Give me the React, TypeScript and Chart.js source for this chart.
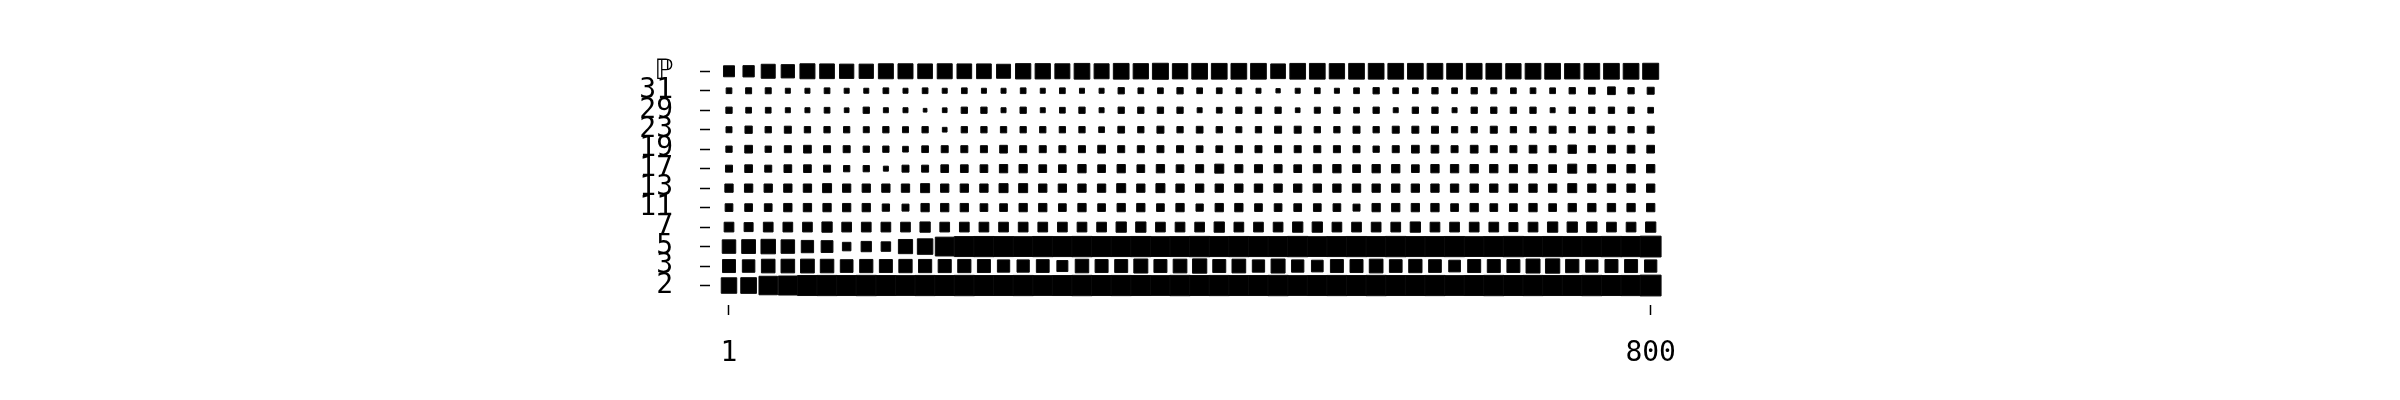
import React, { useEffect, useRef } from "react";
import { Chart, registerables } from "chart.js";

Chart.register(...registerables);

// x positions of the column bins (1 … 800)
const binStarts = [
  1, 18, 35, 52, 69, 86, 103, 120, 137, 154, 171, 188, 205, 222, 239, 256,
  273, 290, 307, 324, 341, 358, 375, 392, 409, 426, 443, 460, 477, 494, 511, 528,
  545, 562, 579, 596, 613, 630, 647, 664, 681, 698, 715, 732, 749, 766, 783, 800,
];

// row labels, bottom to top
const rowLabels = ["2", "3", "5", "7", "11", "13", "17", "19", "23", "29", "31", "ℙ"];

// magnitudes for each row (one per bin)
const row2 = [
  16.5, 16.7, 19.5, 20, 21, 21.2, 21, 21.3, 21, 20.8, 21.2, 21, 21.3, 21, 21, 21.2,
  20.8, 21, 21.3, 21, 21.2, 21, 20.8, 21.3, 21, 21.2, 21, 21, 21.3, 20.8, 21, 21.2,
  21, 21.3, 21, 21, 21.2, 20.8, 21, 21.3, 21, 21.2, 21, 21, 21.3, 21, 21.2, 21.8,
];
const row3 = [
  14, 13.5, 14.6, 14.6, 14.8, 14.5, 13.7, 14.2, 14, 14.3, 14.2, 14.1, 14.2, 14, 13.3, 13.3,
  13.8, 12, 14.5, 14, 14, 15, 14, 14.7, 15.3, 14, 14.7, 13.3, 15, 13.3, 12.7, 14,
  14, 14.7, 13.7, 14.3, 13.7, 12.7, 14, 14, 14, 15, 15.3, 14.3, 13.3, 14, 14, 13.3,
];
const row5 = [
  14.5, 14.8, 15.5, 14.5, 13.3, 12.8, 9.5, 11.3, 10.5, 15.2, 16.5, 19.8, 21, 21.2, 21, 20.8,
  21.2, 21, 21.3, 21, 21, 21.2, 20.8, 21, 21.3, 21, 21.2, 21, 21, 21.3, 20.8, 21,
  21.2, 21, 21.3, 21, 21, 21.2, 20.8, 21, 21.3, 21, 21.2, 21, 21, 21.3, 21.2, 21.8,
];
const row7 = [
  10.7, 10, 10.7, 10.7, 10.7, 11.3, 10.7, 10.7, 10.7, 10.7, 11.3, 10.7, 10.7, 10.7, 10.7, 10.7,
  10.7, 10.7, 10.7, 10.7, 11.3, 11.3, 10.7, 10.7, 10.7, 11.3, 10.7, 10.7, 10.7, 11.3, 11.3, 10.7,
  10.7, 10.7, 10.7, 11.3, 10.7, 10.7, 10.7, 10.7, 10, 10.7, 11.3, 11.3, 11.3, 10.7, 10.7, 11.3,
];
const row11 = [
  8.7, 8.7, 8.7, 9.3, 9.3, 9.3, 9.3, 9.3, 8.3, 8, 9.3, 9.3, 9.3, 8.7, 8.7, 9.3,
  9.3, 8.7, 9.3, 8.7, 9.3, 9.3, 8.7, 9.3, 8.3, 9.3, 9.3, 8.7, 8.7, 8.7, 8.7, 8.7,
  8, 9.3, 9.3, 9.3, 9.3, 8.7, 9.3, 8.7, 8.7, 9.3, 8.7, 9.3, 9.3, 9.3, 9.3, 9.3,
];
const row13 = [
  9.3, 9.3, 9.3, 9.3, 9.3, 10, 9.3, 9.3, 9.3, 9.3, 10, 9.3, 9.3, 9.3, 10, 10,
  9.3, 9.3, 9.3, 9.3, 10, 9.3, 10, 9.3, 9.3, 9.3, 9.3, 9.3, 9.3, 9.3, 9.3, 9.3,
  9.3, 9.3, 9.3, 9.3, 9.3, 9.3, 9.3, 9.3, 9.3, 9.3, 9.3, 10, 9.3, 9.3, 9.3, 9.3,
];
const row17 = [
  8, 8.7, 8, 8.7, 8.7, 8, 7.3, 7.3, 6, 8, 8, 8.7, 8.7, 8.7, 9.3, 9.3,
  8.7, 8.7, 9.3, 8.7, 9.3, 8.7, 9.3, 8.7, 9, 10, 9, 9, 9, 8.7, 9, 9.3,
  8.7, 9.3, 9.3, 8.7, 9.3, 9.3, 9.3, 9.3, 9, 9.3, 8.7, 10, 9.3, 9, 9.3, 9.3,
];
const row19 = [
  7.3, 8.7, 7.3, 8, 8.7, 8, 8, 7.3, 7.3, 6.7, 7.7, 8, 8, 8, 8.7, 8,
  8, 8, 8, 8.7, 8, 8, 8, 8, 7.7, 7.7, 8, 8, 8, 8, 8, 8,
  8, 7.3, 8, 8.7, 8.7, 8, 8.7, 8, 8, 8.7, 8, 9.3, 8, 8.7, 8.7, 8.7,
];
const row23 = [
  7, 8.3, 7.3, 8, 7.3, 7.3, 7.3, 7, 7.3, 7, 7.3, 5.7, 7.3, 7.3, 7.3, 7.3,
  7.3, 7.3, 7.3, 6.7, 7.7, 7.3, 8, 7.3, 7.7, 7.3, 7, 7.3, 8, 8, 7.3, 7.3,
  8, 7.3, 8, 8, 8, 7.3, 7.3, 8, 7.3, 7.3, 8, 7.3, 8, 8, 7.3, 8,
];
const row29 = [
  7.3, 6.7, 6.7, 6, 6, 6.7, 5.7, 7.3, 6, 6, 4.7, 5.7, 7.3, 7.3, 6, 7.3,
  6, 6.7, 7.3, 6, 7.3, 7.3, 7.3, 7.3, 6, 6.7, 7.3, 7.3, 7.3, 5.7, 7, 7.3,
  6.7, 7.3, 6, 7.3, 7.3, 6, 7.3, 7.3, 7.3, 7.3, 6, 7.3, 7.3, 7.3, 7.3, 6.7,
];
const row31 = [
  6.7, 7, 7, 6, 6, 6.7, 6, 6, 6.7, 6, 6.7, 6, 6.7, 6, 6, 6.7,
  6, 6.7, 6, 6, 7.3, 6.7, 6.7, 7.3, 6.7, 6.7, 6.7, 6, 5.3, 6, 6.7, 6,
  6.7, 7.3, 6.7, 6.7, 7.3, 6.7, 7.3, 7, 6.7, 6.7, 6.7, 7.3, 7.7, 8.7, 7.3, 8,
];
const rowP = [
  12, 12.3, 15, 14.3, 16, 15.7, 15.3, 15.3, 16, 16, 15.7, 16, 15.7, 15.7, 15, 16.3,
  16.3, 16, 16.7, 16, 16.7, 16.3, 17, 16.3, 16.7, 16.7, 16.7, 16.7, 15.7, 16.7, 16.7, 16.3,
  16.7, 16.7, 16.7, 16.7, 16.7, 16.7, 16.7, 16.7, 16.3, 16.7, 16.7, 16.3, 16.7, 16.7, 16.7, 17,
];

const rows = [row2, row3, row5, row7, row11, row13, row17, row19, row23, row29, row31, rowP];

const xTicks = [1, 800];

const FONT = "'DejaVu Sans Mono', monospace";

export default function App() {
  const ref = useRef<HTMLCanvasElement | null>(null);

  useEffect(() => {
    if (!ref.current) return;
    const datasets = rows.map((vals, ri) => ({
      label: rowLabels[ri],
      data: vals.map((_, i) => ({ x: binStarts[i], y: ri })),
      pointStyle: "rect" as const,
      pointRadius: vals.map((v) => Math.max(0, (v - 1) / Math.SQRT2)),
      pointHoverRadius: vals.map((v) => Math.max(0, (v - 1) / Math.SQRT2)),
      backgroundColor: "#000",
      borderColor: "#0b0b0b",
      borderWidth: 1,
      showLine: false,
      clip: false as const,
    }));

    const chart = new Chart(ref.current, {
      type: "scatter",
      data: { datasets },
      options: {
        animation: false,
        responsive: false,
        events: [],
        layout: { padding: { top: 42, right: 722.3, left: 0, bottom: 0 } },
        plugins: { legend: { display: false }, tooltip: { enabled: false } },
        scales: {
          x: {
            type: "linear",
            min: -15.47,
            max: 816.49,
            afterBuildTicks: (s: any) => {
              s.ticks = xTicks.map((v) => ({ value: v }));
            },
            afterFit: (s: any) => {
              s.height = 87;
            },
            grid: {
              drawOnChartArea: false,
              drawTicks: true,
              tickLength: 10,
              tickColor: "#000",
              tickWidth: 1.5,
            },
            border: { display: false },
            ticks: {
              autoSkip: false,
              maxRotation: 0,
              padding: 22,
              color: "#000",
              font: { family: FONT, size: 28 },
              callback: (v: any) => String(v),
            },
          },
          y: {
            type: "linear",
            min: -1,
            max: 12,
            afterBuildTicks: (s: any) => {
              s.ticks = rowLabels.map((_, i) => ({ value: i }));
            },
            afterFit: (s: any) => {
              s.width = 702;
            },
            grid: {
              drawOnChartArea: false,
              drawTicks: true,
              tickLength: 10,
              tickColor: "#000",
              tickWidth: 1.5,
            },
            border: { display: false },
            ticks: {
              autoSkip: false,
              padding: 27,
              color: "#000",
              font: { family: FONT, size: 28 },
              callback: (v: any) => rowLabels[v as number] ?? "",
            },
          },
        },
      },
    });
    return () => chart.destroy();
  }, []);

  return <canvas ref={ref} width={2384} height={384} style={{ display: "block" }} />;
}
